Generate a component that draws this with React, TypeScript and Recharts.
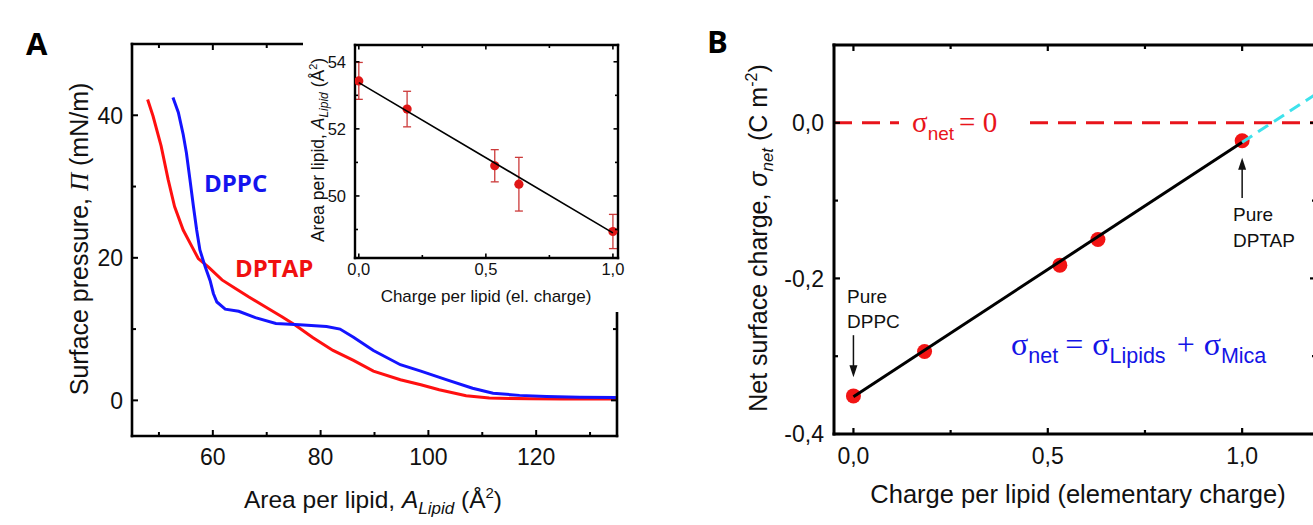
import React from 'react';
import {
  LineChart,
  Line,
  ScatterChart,
  Scatter,
  XAxis,
  YAxis,
  ErrorBar,
  ReferenceLine,
  ReferenceDot,
} from 'recharts';

const SANS = '"Liberation Sans", Arial, Helvetica, sans-serif';
const SERIF = '"Liberation Serif", "Times New Roman", serif';
const BOLD = '"Open Sans", "Liberation Sans", sans-serif';

// ---------- Panel A: surface pressure isotherms ----------
const dppcArea = [52.6, 53.6, 54.5, 55.1, 55.75, 56.4, 57.0, 57.6, 58.6, 59.5, 60.1, 60.75, 62.3, 64.8, 67.9, 71.7, 76.1, 81.1, 83.6, 86.1, 89.8, 94.8, 98.6, 103.3, 108.2, 112.0, 116.9, 121.9, 128.1, 134.8];
const dppcPressure = [42.5, 40.4, 37.3, 34.7, 31.0, 27.2, 23.9, 21.1, 18.7, 16.8, 15.0, 13.8, 12.8, 12.5, 11.6, 10.8, 10.6, 10.35, 10.0, 8.85, 7.0, 5.0, 4.1, 2.9, 1.7, 1.0, 0.7, 0.55, 0.45, 0.4];
const dptapArea = [47.9, 48.9, 50.4, 51.7, 52.9, 54.5, 56.1, 57.3, 59.2, 61.7, 64.2, 66.7, 69.8, 72.9, 75.4, 78.6, 82.3, 86.1, 89.8, 94.8, 98.6, 102.0, 107.0, 111.3, 118.8, 125.0, 134.8];
const dptapPressure = [42.2, 39.9, 35.7, 31.0, 27.2, 23.9, 21.6, 19.9, 18.7, 16.9, 15.7, 14.5, 13.1, 11.7, 10.5, 8.8, 7.0, 5.6, 4.1, 2.9, 2.2, 1.5, 0.65, 0.33, 0.22, 0.2, 0.2];
const areaDomain = [45, 135];
const pressureDomain = [-5, 50];
const areaTicks = [50, 60, 70, 80, 90, 100, 110, 120, 130];
const areaMajor = [60, 80, 100, 120];
const pressureTicks = [0, 10, 20, 30, 40];
const pressureMajor = [0, 20, 40];

// ---------- Inset: area per lipid vs charge ----------
const insetCharge = [0, 0.19, 0.535, 0.63, 1.0];
const insetArea = [53.43, 52.59, 50.9, 50.35, 48.94];
const insetErr = [0.55, 0.53, 0.48, 0.8, 0.51];
const insetFitCharge = [0, 1.0];
const insetFitArea = [53.38, 48.9];
const insetXDomain = [-0.015, 1.02];
const insetYDomain = [48.15, 54.5];
const insetXTicks = [0, 0.25, 0.5, 0.75, 1.0];
const insetXMajor = [0, 0.5, 1.0];
const insetYTicks = [49, 50, 51, 52, 53, 54];
const insetYMajor = [50, 52, 54];

// ---------- Panel B: net surface charge ----------
const chargeB = [0, 0.183, 0.531, 0.629, 1.0];
const sigmaB = [-0.351, -0.294, -0.183, -0.15, -0.023];
const fitChargeB = [0, 1.0];
const fitSigmaB = [-0.352, -0.025];
const extrapChargeB = [1.0, 1.19];
const extrapSigmaB = [-0.025, 0.037];
const bXDomain = [-0.05, 1.19];
const bYDomain = [-0.4, 0.1];
const bXTicks = [0, 0.25, 0.5, 0.75, 1.0];
const bXMajor = [0, 0.5, 1.0];
const bYTicks = [-0.4, -0.3, -0.2, -0.1, 0];
const bYMajor = [-0.4, -0.2, 0];
// annotation arrows (charge, sigma of shaft start / tip)
const dppcArrow = { x: 0, from: -0.273, tip: -0.327 };
const dptapArrow = { x: 1.0, from: -0.0965, tip: -0.045 };

const zip = (xs: number[], ys: number[]) => xs.map((x, i) => ({ x, y: ys[i] }));
const dppcData = zip(dppcArea, dppcPressure);
const dptapData = zip(dptapArea, dptapPressure);
const insetData = insetCharge.map((x, i) => ({ x, y: insetArea[i], err: insetErr[i] }));
const insetFit = zip(insetFitCharge, insetFitArea);
const bData = zip(chargeB, sigmaB);
const bFit = zip(fitChargeB, fitSigmaB);
const bExtrap = zip(extrapChargeB, extrapSigmaB);

const fmtComma = (v: number) => v.toFixed(1).replace('.', ',');

type Side = 'bottom' | 'top' | 'left' | 'right';
interface TickOpt {
  major: number;
  minor: number;
  sw: number;
  fontSize?: number;
  offset?: number;
  fmt?: (v: number) => string;
}
function tickRenderer(side: Side, majors: number[], opt: TickOpt) {
  return (props: any) => {
    const { x, y, payload } = props;
    const v = Number(payload.value);
    const isMajor = majors.some((m) => Math.abs(m - v) < 1e-6);
    const len = isMajor ? opt.major : opt.minor;
    let x2 = x;
    let y2 = y;
    if (side === 'bottom') y2 = y - len;
    if (side === 'top') y2 = y + len;
    if (side === 'left') x2 = x + len;
    if (side === 'right') x2 = x - len;
    const label = opt.fmt ? opt.fmt(v) : String(v);
    const show = isMajor && !!opt.fontSize;
    return (
      <g>
        <line x1={x} y1={y} x2={x2} y2={y2} stroke="#000" strokeWidth={opt.sw} />
        {show && side === 'bottom' && (
          <text x={x} y={y + (opt.offset || 0)} textAnchor="middle" fontFamily={SANS} fontSize={opt.fontSize} fill="#111">
            {label}
          </text>
        )}
        {show && side === 'left' && (
          <text x={x - (opt.offset || 0)} y={y} dy="0.36em" textAnchor="end" fontFamily={SANS} fontSize={opt.fontSize} fill="#111">
            {label}
          </text>
        )}
      </g>
    );
  };
}

const axisLineA = { stroke: '#000', strokeWidth: 2.6, strokeLinecap: 'square' as const };
const axisLineB = { stroke: '#000', strokeWidth: 3, strokeLinecap: 'square' as const };
const axisLineI = { stroke: '#000', strokeWidth: 2.4, strokeLinecap: 'square' as const };

const noShape = () => <g />;
const bigDot = (p: any) => <circle cx={p.cx} cy={p.cy} r={7.5} fill="#f21414" />;
const smallDot = (p: any) => <circle cx={p.cx} cy={p.cy} r={4.6} fill="#e01616" />;
const headDown = (p: any) => (
  <polygon points={`${p.cx},${p.cy} ${p.cx - 4},${p.cy - 12} ${p.cx + 4},${p.cy - 12}`} fill="#111" />
);
const headUp = (p: any) => (
  <polygon points={`${p.cx},${p.cy} ${p.cx - 4},${p.cy + 12} ${p.cx + 4},${p.cy + 12}`} fill="#111" />
);

export default function App() {
  return (
    <div
      style={{
        position: 'absolute',
        left: 0,
        top: 0,
        width: 1313,
        height: 525,
        overflow: 'hidden',
        background: '#fff',
        fontFamily: SANS,
      }}
    >
      {/* Panel A main chart */}
      <div style={{ position: 'absolute', left: 0, top: 0 }}>
        <LineChart width={640} height={525} margin={{ top: 43, right: 22, bottom: 49, left: 82 }}>
          <XAxis
            type="number"
            dataKey="x"
            domain={areaDomain}
            ticks={areaTicks}
            interval={0}
            allowDataOverflow
            height={40}
            tickSize={0}
            tickMargin={0}
            tickLine={false}
            axisLine={axisLineA}
            tick={tickRenderer('bottom', areaMajor, { major: 6, minor: 4, sw: 2, fontSize: 23, offset: 29 })}
          />
          <XAxis
            xAxisId="top"
            orientation="top"
            type="number"
            dataKey="x"
            domain={areaDomain}
            ticks={areaTicks}
            interval={0}
            allowDataOverflow
            height={1}
            tickSize={0}
            tickMargin={0}
            tickLine={false}
            axisLine={axisLineA}
            tick={tickRenderer('top', areaMajor, { major: 6, minor: 4, sw: 2 })}
          />
          <YAxis
            type="number"
            domain={pressureDomain}
            ticks={pressureTicks}
            interval={0}
            allowDataOverflow
            width={50}
            tickSize={0}
            tickMargin={0}
            tickLine={false}
            axisLine={axisLineA}
            tick={tickRenderer('left', pressureMajor, { major: 6, minor: 4, sw: 2, fontSize: 23, offset: 9 })}
          />
          <YAxis
            yAxisId="right"
            orientation="right"
            type="number"
            domain={pressureDomain}
            ticks={pressureTicks}
            interval={0}
            allowDataOverflow
            width={1}
            tickSize={0}
            tickMargin={0}
            tickLine={false}
            axisLine={axisLineA}
            tick={tickRenderer('right', pressureMajor, { major: 6, minor: 4, sw: 2 })}
          />
          <Line data={dptapData} dataKey="y" type="linear" stroke="#ff1010" strokeWidth={3} dot={false} isAnimationActive={false} />
          <Line data={dppcData} dataKey="y" type="linear" stroke="#1414ff" strokeWidth={3} dot={false} isAnimationActive={false} />
        </LineChart>
      </div>

      {/* Inset */}
      <div style={{ position: 'absolute', left: 303, top: 20, width: 327, height: 292, background: '#fff' }}>
        <ScatterChart width={327} height={292} margin={{ top: 24, right: 11, bottom: 24, left: 12 }}>
          <XAxis
            type="number"
            dataKey="x"
            domain={insetXDomain}
            ticks={insetXTicks}
            interval={0}
            allowDataOverflow
            height={30}
            tickSize={0}
            tickMargin={0}
            tickLine={false}
            axisLine={axisLineI}
            tick={tickRenderer('bottom', insetXMajor, { major: 4.5, minor: 3, sw: 1.6, fontSize: 16.5, offset: 17, fmt: fmtComma })}
          />
          <XAxis
            xAxisId="top"
            orientation="top"
            type="number"
            dataKey="x"
            domain={insetXDomain}
            ticks={insetXTicks}
            interval={0}
            allowDataOverflow
            height={1}
            tickSize={0}
            tickMargin={0}
            tickLine={false}
            axisLine={axisLineI}
            tick={tickRenderer('top', insetXMajor, { major: 4.5, minor: 3, sw: 1.6 })}
          />
          <YAxis
            type="number"
            dataKey="y"
            domain={insetYDomain}
            ticks={insetYTicks}
            interval={0}
            allowDataOverflow
            width={40}
            tickSize={0}
            tickMargin={0}
            tickLine={false}
            axisLine={axisLineI}
            tick={tickRenderer('left', insetYMajor, { major: 4.5, minor: 3, sw: 1.6, fontSize: 16.5, offset: 9 })}
          />
          <YAxis
            yAxisId="right"
            orientation="right"
            type="number"
            dataKey="y"
            domain={insetYDomain}
            ticks={insetYTicks}
            interval={0}
            allowDataOverflow
            width={1}
            tickSize={0}
            tickMargin={0}
            tickLine={false}
            axisLine={axisLineI}
            tick={tickRenderer('right', insetYMajor, { major: 4.5, minor: 3, sw: 1.6 })}
          />
          <Scatter data={insetData} shape={smallDot} isAnimationActive={false}>
            <ErrorBar dataKey="err" direction="y" width={4} stroke="#cc3a3a" strokeWidth={1.3} isAnimationActive={false} />
          </Scatter>
          <Scatter data={insetFit} shape={noShape} line={{ stroke: '#000', strokeWidth: 1.6 }} isAnimationActive={false} />
        </ScatterChart>
      </div>

      {/* Panel B */}
      <div style={{ position: 'absolute', left: 700, top: 0 }}>
        <ScatterChart width={640} height={525} margin={{ top: 44, right: 23, bottom: 51, left: 74 }}>
          <XAxis
            type="number"
            dataKey="x"
            domain={bXDomain}
            ticks={bXTicks}
            interval={0}
            allowDataOverflow
            height={40}
            tickSize={0}
            tickMargin={0}
            tickLine={false}
            axisLine={axisLineB}
            tick={tickRenderer('bottom', bXMajor, { major: 6, minor: 4, sw: 2.2, fontSize: 23, offset: 30, fmt: fmtComma })}
          />
          <XAxis
            xAxisId="top"
            orientation="top"
            type="number"
            dataKey="x"
            domain={bXDomain}
            ticks={bXTicks}
            interval={0}
            allowDataOverflow
            height={1}
            tickSize={0}
            tickMargin={0}
            tickLine={false}
            axisLine={axisLineB}
            tick={tickRenderer('top', bXMajor, { major: 6, minor: 4, sw: 2.2 })}
          />
          <YAxis
            type="number"
            dataKey="y"
            domain={bYDomain}
            ticks={bYTicks}
            interval={0}
            allowDataOverflow
            width={60}
            tickSize={0}
            tickMargin={0}
            tickLine={false}
            axisLine={axisLineB}
            tick={tickRenderer('left', bYMajor, { major: 6, minor: 4, sw: 2.2, fontSize: 23, offset: 10, fmt: fmtComma })}
          />
          <YAxis
            yAxisId="right"
            orientation="right"
            type="number"
            dataKey="y"
            domain={bYDomain}
            ticks={bYTicks}
            interval={0}
            allowDataOverflow
            width={1}
            tickSize={0}
            tickMargin={0}
            tickLine={false}
            axisLine={axisLineB}
            tick={tickRenderer('right', bYMajor, { major: 6, minor: 4, sw: 2.2 })}
          />
          <ReferenceLine y={0} stroke="#e8141b" strokeWidth={3} strokeDasharray="18 10" />
          <Scatter data={bData} shape={bigDot} isAnimationActive={false} />
          <Scatter data={bFit} shape={noShape} line={{ stroke: '#000', strokeWidth: 3 }} isAnimationActive={false} />
          <Scatter
            data={bExtrap}
            shape={noShape}
            line={{ stroke: '#3ee2ec', strokeWidth: 3, strokeDasharray: '12 7' }}
            isAnimationActive={false}
          />
          <ReferenceLine
            segment={[
              { x: dppcArrow.x, y: dppcArrow.from },
              { x: dppcArrow.x, y: dppcArrow.tip + 0.012 },
            ]}
            stroke="#111"
            strokeWidth={1.5}
          />
          <ReferenceDot x={dppcArrow.x} y={dppcArrow.tip} shape={headDown} />
          <ReferenceLine
            segment={[
              { x: dptapArrow.x, y: dptapArrow.from },
              { x: dptapArrow.x, y: dptapArrow.tip - 0.012 },
            ]}
            stroke="#111"
            strokeWidth={1.5}
          />
          <ReferenceDot x={dptapArrow.x} y={dptapArrow.tip} shape={headUp} />
        </ScatterChart>
      </div>

      {/* Text overlay */}
      <svg width={1313} height={525} style={{ position: 'absolute', left: 0, top: 0, pointerEvents: 'none' }}>
        {/* Panel letters */}
        <text x={26} y={55} fontFamily={BOLD} fontWeight={700} fontSize={31} fill="#000">A</text>
        <text x={707} y={53} fontFamily={BOLD} fontWeight={700} fontSize={31} fill="#000">B</text>

        {/* Panel A labels */}
        <text x={204} y={192} fontFamily={BOLD} fontWeight={700} fontSize={24} fill="#1414ee">DPPC</text>
        <text x={235} y={277} fontFamily={BOLD} fontWeight={700} fontSize={24} fill="#f01010">DPTAP</text>
        <text x={373} y={508} textAnchor="middle" fontFamily={SANS} fontSize={24.5} fill="#111">
          Area per lipid, <tspan fontStyle="italic">A</tspan>
          <tspan fontStyle="italic" fontSize={17} dy={6}>Lipid</tspan>
          <tspan dy={-6}> (Å</tspan>
          <tspan fontSize={15} dy={-10}>2</tspan>
          <tspan dy={10}>)</tspan>
        </text>
        <text transform="translate(88,239) rotate(-90)" textAnchor="middle" fontFamily={SANS} fontSize={25} fill="#111">
          Surface pressure, <tspan fontFamily={SERIF} fontStyle="italic">Π</tspan> (mN/m)
        </text>

        {/* Inset labels */}
        <text x={486} y={302} textAnchor="middle" fontFamily={SANS} fontSize={17} fill="#111">
          Charge per lipid (el. charge)
        </text>
        <text transform="translate(323.5,150) rotate(-90)" textAnchor="middle" fontFamily={SANS} fontSize={17.5} fill="#111">
          Area per lipid, <tspan fontStyle="italic">A</tspan>
          <tspan fontStyle="italic" fontSize={12} dy={4}>Lipid</tspan>
          <tspan dy={-4}> (Å</tspan>
          <tspan fontSize={11} dy={-7}>2</tspan>
          <tspan dy={7}>)</tspan>
        </text>

        {/* Panel B labels */}
        <text x={1078} y={503} textAnchor="middle" fontFamily={SANS} fontSize={25.5} fill="#111">
          Charge per lipid (elementary charge)
        </text>
        <text transform="translate(767,238) rotate(-90)" textAnchor="middle" fontFamily={SANS} fontSize={25} fill="#111">
          Net surface charge, <tspan fontStyle="italic">σ</tspan>
          <tspan fontStyle="italic" fontSize={17} dy={6}>net</tspan>
          <tspan dy={-6}> (C m</tspan>
          <tspan fontSize={16} dy={-10}>-2</tspan>
          <tspan dy={10}>)</tspan>
        </text>

        {/* sigma_net = 0 */}
        <rect x={899} y={112} width={122} height={24} fill="#fff" />
        <text x={912} y={132} fontFamily={SERIF} fontSize={29} fill="#e8141b">
          σ<tspan fontFamily={SANS} fontSize={19} dy={8}>net</tspan>
          <tspan dx={5} dy={-8}>= 0</tspan>
        </text>

        {/* equation */}
        <text x={1011} y={355} fontFamily={SERIF} fontSize={32} fill="#1414e6">
          σ<tspan fontFamily={SANS} fontSize={21.5} dy={8}>net</tspan>
          <tspan dx={7} dy={-8}>=</tspan>
          <tspan dx={9}>σ</tspan>
          <tspan fontFamily={SANS} fontSize={21.5} dy={8}>Lipids</tspan>
          <tspan dx={11} dy={-8}>+</tspan>
          <tspan dx={9}>σ</tspan>
          <tspan fontFamily={SANS} fontSize={21.5} dy={8}>Mica</tspan>
        </text>

        {/* Pure annotations */}
        <text x={847} y={303} fontFamily={SANS} fontSize={19} fill="#111">Pure</text>
        <text x={847} y={328} fontFamily={SANS} fontSize={19} fill="#111">DPPC</text>
        <text x={1233} y={221} fontFamily={SANS} fontSize={19} fill="#111">Pure</text>
        <text x={1233} y={247} fontFamily={SANS} fontSize={19} fill="#111">DPTAP</text>
      </svg>
    </div>
  );
}
